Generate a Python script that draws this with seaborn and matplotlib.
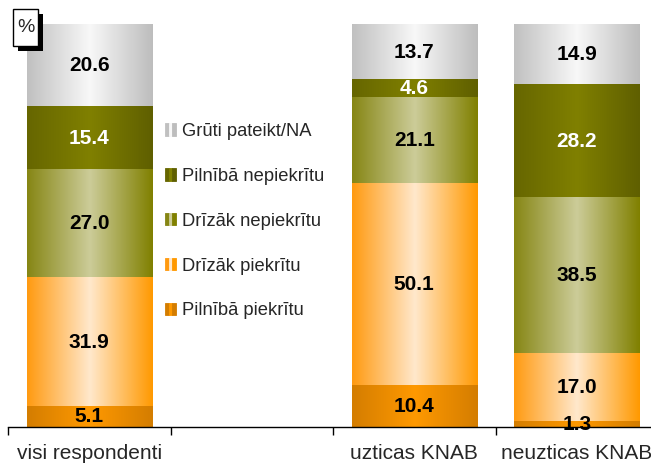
import numpy as np
import pandas as pd
import matplotlib
matplotlib.use('Agg')
import matplotlib.pyplot as plt
import seaborn as sns
from matplotlib.colors import LinearSegmentedColormap
from matplotlib.patches import Rectangle
from matplotlib.legend_handler import HandlerTuple

# categories (the empty slot holds the legend)
groups = ['visi respondenti', '', 'uzticas KNAB', 'neuzticas KNAB']
bar_groups = ['visi respondenti', 'uzticas KNAB', 'neuzticas KNAB']

# series, bottom to top
series = ['Pilnībā piekrītu', 'Drīzāk piekrītu', 'Drīzāk nepiekrītu',
          'Pilnībā nepiekrītu', 'Grūti pateikt/NA']
pilniba_piekritu = [5.1, 10.4, 1.3]
drizak_piekritu = [31.9, 50.1, 17.0]
drizak_nepiekritu = [27.0, 21.1, 38.5]
pilniba_nepiekritu = [15.4, 4.6, 28.2]
gruti_pateikt = [20.6, 13.7, 14.9]

# gradient stops (edge -> centre -> edge) and label colours
gradients = {
    'Pilnībā piekrītu': ['#d47d00', '#ff9900', '#d47d00'],
    'Drīzāk piekrītu': ['#ff9a10', '#ffe8cc', '#ff9900'],
    'Drīzāk nepiekrītu': ['#868614', '#cccc99', '#808000'],
    'Pilnībā nepiekrītu': ['#666600', '#808000', '#5f5f00'],
    'Grūti pateikt/NA': ['#c0c0c0', '#f8f8f8', '#bdbdbd'],
}
base_colors = {
    'Pilnībā piekrītu': '#ee8800',
    'Drīzāk piekrītu': '#ffc890',
    'Drīzāk nepiekrītu': '#a8a860',
    'Pilnībā nepiekrītu': '#707000',
    'Grūti pateikt/NA': '#dcdcdc',
}
label_colors = {'Pilnībā nepiekrītu': 'white'}

df = pd.DataFrame({'group': bar_groups,
                   'Pilnībā piekrītu': pilniba_piekritu,
                   'Drīzāk piekrītu': drizak_piekritu,
                   'Drīzāk nepiekrītu': drizak_nepiekritu,
                   'Pilnībā nepiekrītu': pilniba_nepiekritu,
                   'Grūti pateikt/NA': gruti_pateikt})
cum = df[series].cumsum(axis=1)

sns.set_theme(style='white')
plt.rcParams['font.family'] = ['Liberation Sans', 'DejaVu Sans']

fig = plt.figure(figsize=(6.51, 4.66), dpi=100)
ax = fig.add_axes([8 / 651, 39 / 466, 650 / 651, 403 / 466])

grad = np.linspace(0, 1, 256).reshape(1, -1)

# draw cumulative bars top-down, then paint each segment with its gradient
for s in reversed(series):
    n0 = len(ax.patches)
    sns.barplot(data=df.assign(total=cum[s]), x='group', y='total', order=groups,
                color=base_colors[s], width=0.77, errorbar=None, ax=ax,
                saturation=1, zorder=1)
    cmap = LinearSegmentedColormap.from_list(s, gradients[s])
    for p in ax.patches[n0:]:
        x0 = p.get_x()
        x1 = x0 + p.get_width()
        top = p.get_height()
        xc = x0 + p.get_width() / 2
        g = groups[int(round(xc))]
        val = df.loc[df['group'] == g, s].values[0]
        ax.imshow(grad, cmap=cmap, aspect='auto', extent=(x0, x1, top - val, top),
                  zorder=2, interpolation='bicubic')
        ax.text(xc, top - val / 2, f'{val:.1f}', ha='center', va='center',
                fontsize=15, fontweight='bold',
                color=label_colors.get(s, 'black'), zorder=5)

ax.set_xlim(-0.5, 3.5)
ax.set_ylim(0, 100)
ax.set_yticks([])
ax.set_xlabel('')
ax.set_ylabel('')
ax.set_xticks(range(len(groups)))
ax.set_xticklabels(groups, fontsize=15)
ax.set_xticks(np.arange(-0.5, len(groups), 1), minor=True)
ax.tick_params(axis='x', which='major', length=0, pad=12.5)
ax.tick_params(axis='x', which='minor', length=6, width=1, color='black',
               direction='out', bottom=True)
for sp in ['left', 'top', 'right']:
    ax.spines[sp].set_visible(False)
ax.spines['bottom'].set_color('black')
ax.spines['bottom'].set_linewidth(1)

# legend in the empty slot, markers as three-stripe gradients
handles = [tuple(Rectangle((0, 0), 1, 1, facecolor=c, edgecolor=c, linewidth=0.6)
                 for c in gradients[s]) for s in reversed(series)]
fig.legend(handles, list(reversed(series)), loc='upper left',
           bbox_to_anchor=(165 / 651, 1 - 123 / 466), frameon=False,
           borderpad=0, borderaxespad=0,
           fontsize=13.2, labelspacing=1.52, handlelength=0.6, handleheight=0.65,
           handletextpad=0.3,
           handler_map={tuple: HandlerTuple(ndivide=None, pad=0)})

# "%" box with shadow
fig.patches.append(Rectangle((18 / 651, 1 - 51 / 466), 25 / 651, 37 / 466,
                             transform=fig.transFigure, facecolor='black',
                             edgecolor='none', zorder=10))
fig.patches.append(Rectangle((13 / 651, 1 - 46 / 466), 25 / 651, 37 / 466,
                             transform=fig.transFigure, facecolor='white',
                             edgecolor='black', linewidth=1, zorder=11))
fig.text(25.5 / 651, 1 - 27 / 466, '%', ha='center', va='center', fontsize=14,
         zorder=12)

fig.savefig('out.png', dpi=100)
